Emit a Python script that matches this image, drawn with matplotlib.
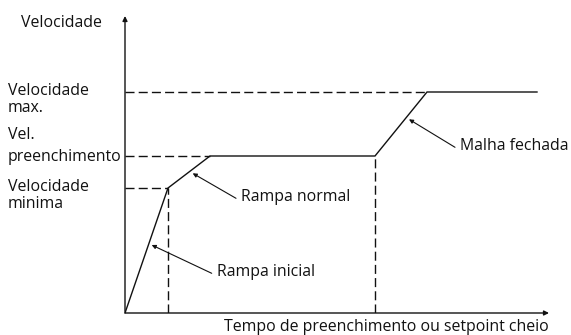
import matplotlib
matplotlib.use("Agg")
import matplotlib.pyplot as plt
import matplotlib.transforms as mtransforms

plt.rcParams['font.family'] = ['Open Sans', 'DejaVu Sans']
plt.rcParams['lines.scale_dashes'] = False

# ---- data (arbitrary units; time on x, speed on y) ----
t_profile = [0, 43, 85, 250, 302, 412]
v_profile = [0, 125, 157, 157, 221, 221]
v_min, v_fill, v_max = 125, 157, 221
t_min, t_fill, t_fill_end, t_max = 43, 85, 250, 302

x_label = "Tempo de preenchimento ou setpoint cheio"
y_label = "Velocidade"
level_labels = [  # (first line, second line, level)
    ("Velocidade", "max.", v_max),
    ("Vel.", "preenchimento", v_fill),
    ("Velocidade", "minima", v_min),
]
annotations = [  # text, tip (t, v), tail (t, v)
    ("Rampa normal", (67.7, 139.7), (111, 114.7)),
    ("Rampa inicial", (26.7, 68), (86.7, 39.7)),
    ("Malha fechada", (284, 193.7), (330, 165.7)),
]

W, H = 571, 335
fig = plt.figure(figsize=(W / 100, H / 100), dpi=100)
ax = fig.add_axes([125 / W, 22 / H, 424 / W, 297 / H])
ax.set_xlim(0, 424)
ax.set_ylim(0, 297)
ax.axis('off')

lc = '#111111'
lw = 1.0
dash = (6.5, 3.0)
fs = 11.4

# axes with arrows
ax.annotate('', xy=(424, 0), xytext=(0, 0),
            arrowprops=dict(arrowstyle='-|>', color=lc, lw=lw, mutation_scale=7,
                            shrinkA=0, shrinkB=0))
ax.annotate('', xy=(0, 297), xytext=(0, 0),
            arrowprops=dict(arrowstyle='-|>', color=lc, lw=lw, mutation_scale=7,
                            shrinkA=0, shrinkB=0))

# dashed guides
ax.plot([0, t_max], [v_max, v_max], color=lc, lw=lw, dashes=dash)
ax.plot([0, t_fill], [v_fill, v_fill], color=lc, lw=lw, dashes=dash)
ax.plot([0, t_min], [v_min, v_min], color=lc, lw=lw, dashes=dash)
ax.plot([t_min, t_min], [0, v_min], color=lc, lw=lw, dashes=dash)
ax.plot([t_fill_end, t_fill_end], [0, v_fill], color=lc, lw=lw, dashes=dash)

# speed profile
ax.plot(t_profile, v_profile, color=lc, lw=lw, solid_joinstyle='miter')

# annotations
for text, tip, tail in annotations:
    ax.annotate('', xy=tip, xytext=tail,
                arrowprops=dict(arrowstyle='-|>', color=lc, lw=0.8, mutation_scale=6,
                                shrinkA=0, shrinkB=0))
    ax.text(tail[0] + 5.0, tail[1] + 1.0, text, fontsize=fs, color=lc,
            ha='left', va='center')

# left labels (x in figure px, y in data)
trans = mtransforms.blended_transform_factory(fig.transFigure, ax.transData)
fx = 8 / W
for l1, l2, lev in level_labels:
    if l1 == "Vel.":
        ax.text(fx, lev + 17, l1, transform=trans, fontsize=fs, color=lc, ha='left', va='baseline')
        ax.text(fx, lev - 5, l2, transform=trans, fontsize=fs, color=lc, ha='left', va='baseline')
    else:
        ax.text(fx, lev - 2.6, l1, transform=trans, fontsize=fs, color=lc, ha='left', va='baseline')
        ax.text(fx, lev - 20, l2, transform=trans, fontsize=fs, color=lc, ha='left', va='baseline')

fig.text(21 / W, 1 - 27.3 / H, y_label, fontsize=fs, color=lc, ha='left', va='baseline')
fig.text(549 / W, 1 - 331 / H, x_label, fontsize=fs, color=lc, ha='right', va='baseline')

fig.savefig('out.png', dpi=100)
